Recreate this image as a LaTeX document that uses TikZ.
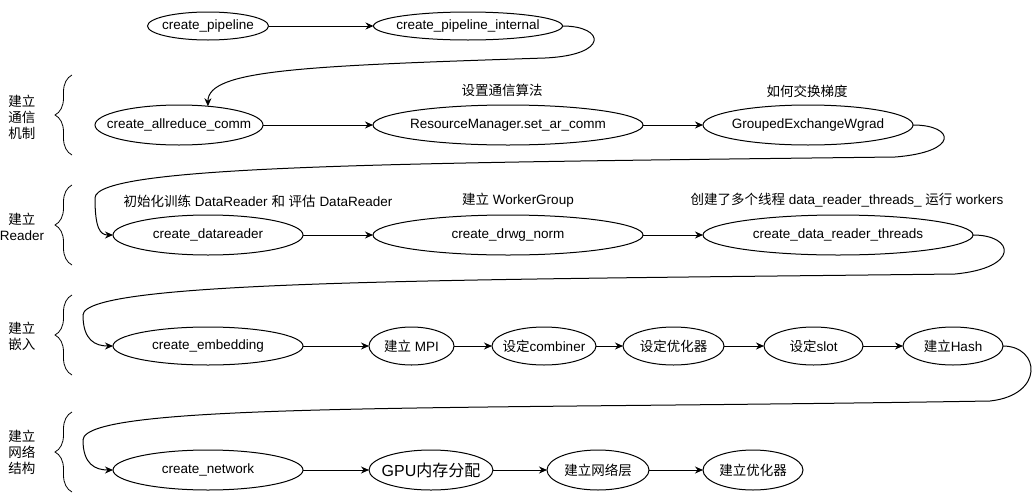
\documentclass[tikz,border=0pt]{standalone}
\usepackage{fontspec}
\setmainfont{Liberation Sans}
\newfontfamily\cjk{Noto Sans CJK SC}
\usepackage{tikz}
\usetikzlibrary{arrows.meta,positioning,shapes.geometric,decorations.pathreplacing}

\begin{document}
\begin{tikzpicture}[
  x=1pt,y=-1pt,
  font=\fontsize{13.5pt}{16pt}\selectfont,
  fn/.style={ellipse,draw,line width=1pt,minimum width=#1,minimum height=40pt,inner xsep=-150pt,inner ysep=0pt,outer sep=0pt},
  note/.style={inner sep=0pt},
  grp/.style={align=center,inner sep=0pt},
  arr/.style={-{Stealth[length=8pt,width=7pt]},line width=1pt},
  brc/.style={decorate,decoration={brace,amplitude=17pt},line width=0.8pt}
]
\useasboundingbox (0,0) rectangle (1034,493);
% row 0
\node[fn=121pt,minimum height=28pt] (pipe) at (208,26) {create\_pipeline};
\node[fn=189pt,minimum height=28pt,right=105pt of pipe] (pipeint) {create\_pipeline\_internal};
% row 1: communication
\node[fn=168pt] (allred) at (179,125) {create\_allreduce\_comm};
\node[fn=270pt,right=110pt of allred] (setar) {ResourceManager.set\_ar\_comm};
\node[fn=210pt,right=60pt of setar] (gexch) {GroupedExchangeWgrad};
\node[note] (nsetar) at (502,90) {\cjk 设置通信算法};
\node[note] (ngexch) at (807,91) {\cjk 如何交换梯度};
% row 2: reader
\node[fn=190pt] (dreader) at (208,235) {create\_datareader};
\node[fn=270pt,right=70pt of dreader] (drwg) {create\_drwg\_norm};
\node[fn=270pt,right=60pt of drwg] (drthreads) {create\_data\_reader\_threads};
\node[note] (ndreader) at (258,201) {{\cjk 初始化训练} DataReader {\cjk 和} {\cjk 评估} DataReader};
\node[note] (ndrwg) at (518,200) {{\cjk 建立} WorkerGroup};
\node[note] (ndrthreads) at (847,200) {{\cjk 创建了多个线程} data\_reader\_threads\_ {\cjk 运行} workers};
% row 3: embedding
\node[fn=190pt,minimum height=38pt] (embed) at (208,346) {create\_embedding};
\node[fn=85pt,minimum height=38pt,right=66pt of embed] (mpi) {{\cjk 建立} MPI};
\node[fn=104pt,minimum height=38pt,right=38pt of mpi] (combiner) {{\cjk 设定}combiner};
\node[fn=101pt,minimum height=38pt,right=27pt of combiner] (optset) {\cjk 设定优化器};
\node[fn=99pt,minimum height=38pt,right=40pt of optset] (slot) {{\cjk 设定}slot};
\node[fn=100pt,minimum height=38pt,right=40pt of slot] (hash) {{\cjk 建立}Hash};
% row 4: network
\node[fn=190pt] (network) at (208,470) {create\_network};
\node[fn=124pt,right=66pt of network,font=\fontsize{16pt}{18pt}\selectfont] (gpumem) {GPU{\cjk 内存分配}};
\node[fn=102pt,right=54pt of gpumem] (layers) {\cjk 建立网络层};
\node[fn=100pt,right=54pt of layers] (optim) {\cjk 建立优化器};
% groups
\node[grp] (gcomm) at (22,117) {\cjk 建立\\\cjk 通信\\\cjk 机制};
\node[grp] (greader) at (22,227) {{\cjk 建立}\\Reader};
\node[grp] (gembed) at (22,336) {\cjk 建立\\\cjk 嵌入};
\node[grp] (gnet) at (22,452) {\cjk 建立\\\cjk 网络\\\cjk 结构};
\draw[brc] (72,155) -- (72,75);
\draw[brc] (72,265) -- (72,185);
\draw[brc] (72,375) -- (72,295);
\draw[brc] (72,492) -- (72,412);
% straight arrows
\draw[arr] (pipe)--(pipeint);
\draw[arr] (allred)--(setar); \draw[arr] (setar)--(gexch);
\draw[arr] (dreader)--(drwg); \draw[arr] (drwg)--(drthreads);
\draw[arr] (embed)--(mpi); \draw[arr] (mpi)--(combiner); \draw[arr] (combiner)--(optset);
\draw[arr] (optset)--(slot); \draw[arr] (slot)--(hash);
\draw[arr] (network)--(gpumem); \draw[arr] (gpumem)--(layers); \draw[arr] (layers)--(optim);
% row-to-row connectors
\draw[arr] (pipeint.east) .. controls (605,26) and (610,55) .. (545,58)
  .. controls (300,66) and (208,70) .. (allred.33);
\draw[arr] (gexch.east) .. controls (955,125) and (960,152) .. (895,157)
  .. controls (400,163) and (95,165) .. (95,198) .. controls (95,228) and (100,235) .. (dreader.west);
\draw[arr] (drthreads.east) .. controls (1015,235) and (1020,268) .. (955,274)
  .. controls (450,280) and (84,280) .. (83,315) .. controls (83,340) and (95,346) .. (embed.west);
\draw[arr] (hash.east) .. controls (1040,346) and (1045,395) .. (990,401)
  .. controls (450,410) and (84,402) .. (83,440) .. controls (83,464) and (95,470) .. (network.west);
\end{tikzpicture}
\end{document}
